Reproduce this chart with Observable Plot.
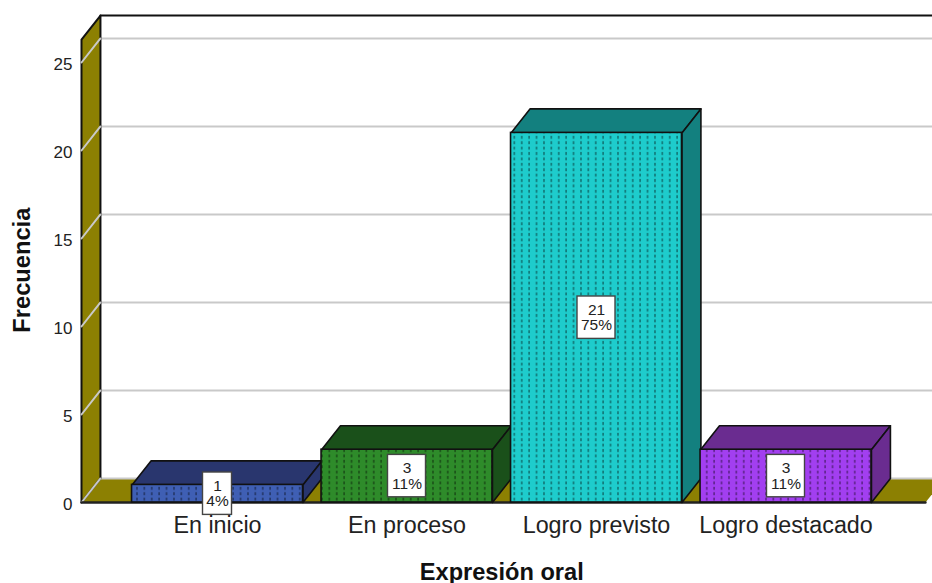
<!DOCTYPE html>
<html>
<head>
<meta charset="utf-8">
<script src="https://cdn.jsdelivr.net/npm/d3@7"></script>
<script src="https://cdn.jsdelivr.net/npm/@observablehq/plot@0.6"></script>
<style>
html,body{margin:0;padding:0;background:#fff;overflow:hidden}
svg{display:block}
</style>
</head>
<body>
<div id="chart"></div>
<script>
const categories = ["En inicio", "En proceso", "Logro previsto", "Logro destacado"];
const counts = [1, 3, 21, 3];
const percents = ["4%", "11%", "75%", "11%"];
const frontColors = ["#3f5fb4", "#2e8b2a", "#1ecccc", "#a23ff0"];
const sideColors = ["#29366e", "#1a501a", "#13807f", "#6a2c90"];
const yTicks = [0, 5, 10, 15, 20, 25];
const wallColor = "#8c8002";

// chart geometry expressed in scale units
const barHalf = 0.451, depthX = 0.1, depthY = 1.364, yFrontTop = 26.3;
const xStart = (81 - 217) / 189.5, xEnd = (932 - 217) / 189.5, floorEnd = 3.736;
const poly = (id, fill, pts) => pts.map(([x, y]) => ({id, fill, x, y}));

const wall = [
  ...poly("wall", wallColor, [[xStart, 0], [xStart + depthX, depthY], [xStart + depthX, yFrontTop + depthY], [xStart, yFrontTop], [xStart, 0]])
];
const floorPoly = poly("floor", wallColor, [[xStart, 0], [xStart + depthX, depthY], [floorEnd + depthX, depthY], [floorEnd, 0], [xStart, 0]]);
const grid = yTicks.flatMap(t => [[xStart, t], [xStart + depthX, t + depthY], [xEnd, t + depthY]].map(([x, y]) => ({t, x, y})));
const faces = counts.flatMap((v, i) => {
  const l = i - barHalf, r = i + barHalf;
  return [
    ...poly("top" + i, sideColors[i], [[l, v], [l + depthX, v + depthY], [r + depthX, v + depthY], [r, v], [l, v]]),
    ...poly("side" + i, sideColors[i], [[r, 0], [r + depthX, depthY], [r + depthX, v + depthY], [r, v], [r, 0]])
  ];
});
const bars = counts.map((v, i) => ({i, v, x1: i - barHalf, x2: i + barHalf, fill: frontColors[i]}));
const boxes = counts.map((v, i) => {
  const hw = (percents[i].length > 2 ? 19 : 14.5) / 189.5, hh = 21.2 / 17.6;
  return {x1: i - hw, x2: i + hw, y1: v / 2 - hh, y2: v / 2 + hh};
});
const labels = counts.map((v, i) => ({x: i, y: v / 2, text: v + "\n" + percents[i]}));

const plot = Plot.plot({
  width: 932, height: 583,
  marginLeft: 81, marginRight: 0, marginTop: 0, marginBottom: 81,
  style: {fontFamily: "Liberation Sans, Arial, sans-serif", background: "#fff", color: "#222", overflow: "hidden"},
  x: {domain: [xStart, xEnd], axis: null},
  y: {domain: [0, 502 / 17.6], axis: null},
  marks: [
    Plot.line(floorPoly, {x: "x", y: "y", z: "id", fill: "fill", stroke: "none"}),
    Plot.line(grid, {x: "x", y: "y", z: "t", stroke: "#c9c9c9", strokeWidth: 2}),
    Plot.line(wall, {x: "x", y: "y", z: "id", fill: "fill", stroke: "#111", strokeWidth: 2}),
    Plot.line(grid.filter(d => d.x < xStart + depthX + 1e-6), {x: "x", y: "y", z: "t", stroke: "#c9c9c9", strokeWidth: 2}),
    Plot.line([[xStart + depthX, yFrontTop + depthY], [xEnd, yFrontTop + depthY]], {stroke: "#111", strokeWidth: 2}),
    Plot.line([[xStart, 0], [floorEnd, 0]], {stroke: "#222", strokeWidth: 2.4}),
    Plot.line(faces, {x: "x", y: "y", z: "id", fill: "fill", stroke: "#111", strokeWidth: 1.6}),
    Plot.rect(bars, {x1: "x1", x2: "x2", y1: 0, y2: "v", fill: "fill"}),
    Plot.rect(bars, {x1: "x1", x2: "x2", y1: 0, y2: "v", fill: "url(#dots)", stroke: "#111", strokeWidth: 1.6}),
    Plot.rect(boxes, {x1: "x1", x2: "x2", y1: "y1", y2: "y2", fill: "#fff", stroke: "#444", strokeWidth: 1.4}),
    Plot.text(labels, {x: "x", y: "y", text: "text", fontSize: 15.5, lineHeight: 1.0, fill: "#222"}),
    Plot.axisY({ticks: yTicks, tickSize: 0, tickPadding: 9, dy: 2, fontSize: 17, label: null, tickFormat: d => d}),
    Plot.axisX({ticks: [0, 1, 2, 3], tickSize: 0, tickPadding: 14, fontSize: 23.3, label: null, tickFormat: d => categories[d]}),
    Plot.text(["Expresión oral"], {x: () => 1.5, frameAnchor: "bottom", dy: 77, fontSize: 23.6, fontWeight: "bold", fill: "#111"}),
    Plot.text(["Frecuencia"], {y: () => 13.2, frameAnchor: "left", textAnchor: "middle", dx: -59, rotate: -90, fontSize: 23.7, fontWeight: "bold", fill: "#111"})
  ]
});

const ns = "http://www.w3.org/2000/svg";
const defs = document.createElementNS(ns, "defs");
defs.innerHTML = '<pattern id="dots" patternUnits="userSpaceOnUse" width="7.4" height="5.4"><rect x="3" y="0.8" width="1.5" height="3" fill="#000" fill-opacity="0.45"/></pattern>';
plot.insertBefore(defs, plot.firstChild);
document.getElementById("chart").appendChild(plot);
</script>
</body>
</html>
